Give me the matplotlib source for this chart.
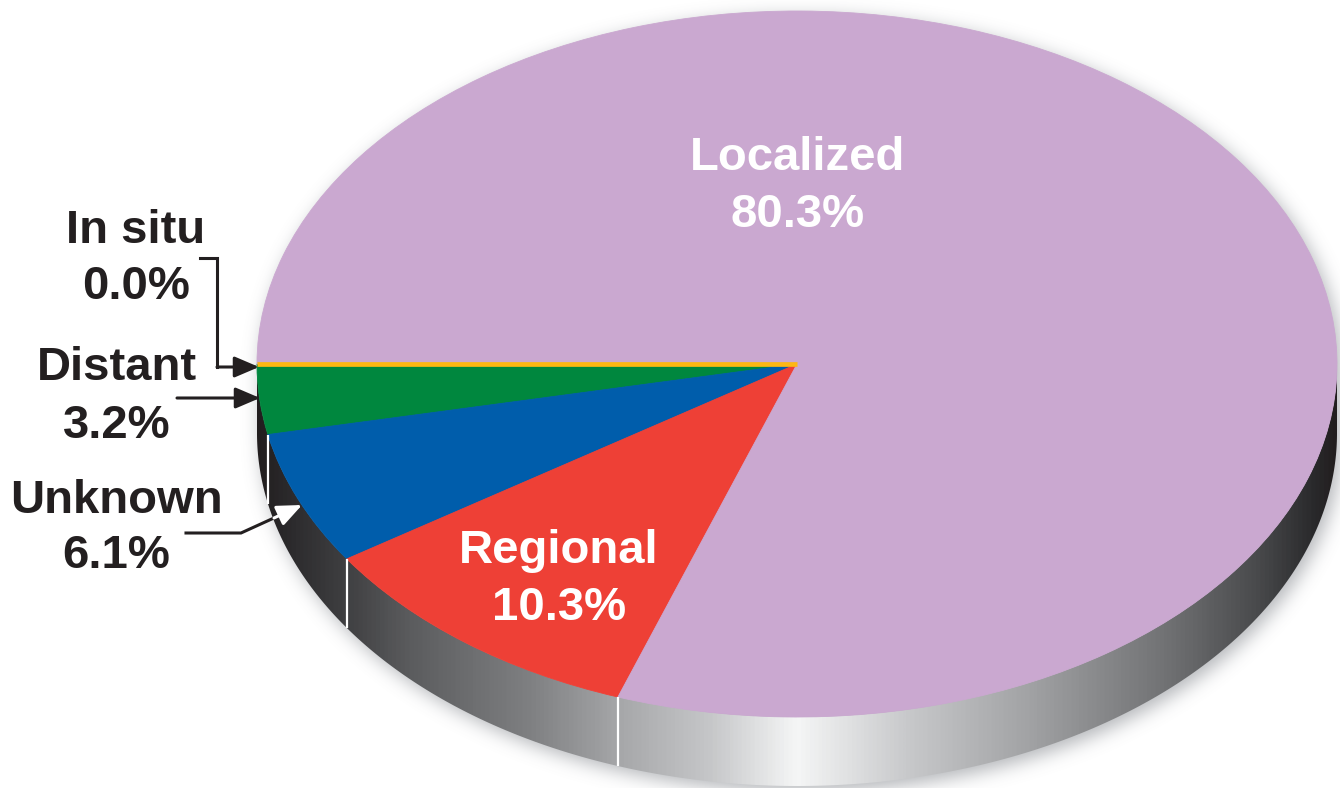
import numpy as np
import matplotlib
matplotlib.use("Agg")
import matplotlib.pyplot as plt
from matplotlib.colors import LinearSegmentedColormap
from matplotlib.patches import Polygon

# ---------------- data ----------------
categories = ["In situ", "Distant", "Unknown", "Regional", "Localized"]
values = [0.0, 3.2, 6.1, 10.3, 80.3]
colors = ["#fdb714", "#00873e", "#005dab", "#ee4036", "#caa8d0"]

# ---------------- layout (pixels) ----------------
W, H = 1340, 788
CX, CY, RX, RY = 797, 364, 540, 353
DEPTH_PX = 69
DEPTH = DEPTH_PX / RY
DARK = "#231f20"
FONT = ["Liberation Sans", "DejaVu Sans"]
FS = 34

fig = plt.figure(figsize=(13.4, 7.88), dpi=100)
ax = fig.add_axes([0, 0, 1, 1])


def P(px, py):
    return ((px - CX) / RX, (CY - py) / RY)


X0, Y1 = P(0, 0)
X1, Y0 = P(W, H)

# ---------------- soft shadow ----------------
PAD = 40
yy, xx = np.mgrid[-PAD:H + PAD, -PAD:W + PAD].astype(float)
u = (xx - CX) / RX
v = (yy - CY) / RY
ell = u ** 2 + v ** 2 <= 1
inside = np.abs(u) <= 1
lower = CY + RY * np.sqrt(np.clip(1 - u ** 2, 0, None))
band = inside & (yy >= CY) & (yy <= lower + DEPTH_PX)
mask = (ell | band).astype(float)
sig = 9.0
k = np.arange(-30, 31)
g = np.exp(-0.5 * (k / sig) ** 2)
g /= g.sum()
bl = np.apply_along_axis(lambda r: np.convolve(r, g, mode="same"), 1, mask)
bl = np.apply_along_axis(lambda c: np.convolve(c, g, mode="same"), 0, bl)
DY, DX = 5, 4
bl = bl[PAD - DY:PAD - DY + H, PAD - DX:PAD - DX + W]
shadow = np.zeros((H, W, 4))
shadow[..., 0] = 0.35
shadow[..., 1] = 0.37
shadow[..., 2] = 0.40
shadow[..., 3] = bl * 0.45
ax.imshow(shadow, extent=(X0, X1, Y0, Y1), origin="upper", aspect="auto",
          zorder=0, interpolation="bilinear")

# ---------------- side band (3D rim) ----------------
th = np.linspace(np.pi, 2 * np.pi, 400)
top = np.column_stack([np.cos(th), np.sin(th)])
bot = np.column_stack([np.cos(th[::-1]), np.sin(th[::-1]) - DEPTH])
side = Polygon(np.vstack([top, bot]), closed=True, facecolor="none",
               edgecolor="none", transform=ax.transData)
ax.add_patch(side)

rim_cmap = LinearSegmentedColormap.from_list("rim", [
    (0.00, "#221e1f"),
    (0.03, "#2c2b2d"),
    (0.08, "#3f3f41"),
    (0.14, "#5b5c5e"),
    (0.25, "#7e7f81"),
    (0.34, "#a8a9ab"),
    (0.42, "#c6c7c9"),
    (0.50, "#f5f6f6"),
    (0.60, "#c9cacc"),
    (0.72, "#a0a1a3"),
    (0.85, "#6e6f71"),
    (0.93, "#48494b"),
    (0.98, "#2a2a2c"),
    (1.00, "#221e1f"),
])
grad = np.linspace(0, 1, 1000)[np.newaxis, :]
im = ax.imshow(grad, extent=(-1, 1, -1 - DEPTH - 0.01, 0.01), aspect="auto",
               cmap=rim_cmap, zorder=1, interpolation="bilinear")
im.set_clip_path(side)

# ---------------- pie top ----------------
wedges, _ = ax.pie(values, colors=colors, startangle=180, counterclock=True,
                   radius=1, center=(0, 0))
for w, c in zip(wedges, colors):
    w.set_edgecolor(c)
    w.set_linewidth(0.6)
    w.set_zorder(2)

# boundary angles from the data
fr = np.array(values) / np.sum(values)
cum = np.concatenate([[0], np.cumsum(fr)])
angles = np.deg2rad(180 + 360 * cum)

# In situ (0.0%) drawn as a thin yellow line
a_ins = (angles[0] + angles[1]) / 2
ax.plot([0, np.cos(a_ins)], [0, np.sin(a_ins)], color=colors[0], lw=3.4,
        solid_capstyle="butt", zorder=3)

# white separators on the rim
for a in angles[1:-1]:
    if np.pi + 1e-3 < a < 2 * np.pi - 1e-3:
        x = np.cos(a)
        y = np.sin(a)
        ax.plot([x, x], [y, y - DEPTH], color="white", lw=1.6, zorder=3,
                solid_capstyle="butt")

ax.set_aspect("auto")
ax.set_xlim(X0, X1)
ax.set_ylim(Y0, Y1)
ax.axis("off")

# ---------------- labels ----------------
def label(px, base1, base2, cat, val, color):
    ax.text(*P(px, base1), cat, ha="center", va="baseline", fontsize=FS,
            fontweight="bold", family=FONT, color=color, zorder=5)
    ax.text(*P(px, base2), f"{val:.1f}%", ha="center", va="baseline",
            fontsize=FS, fontweight="bold", family=FONT, color=color, zorder=5)


label(798, 170, 227, categories[4], values[4], "white")
label(559, 563, 620, categories[3], values[3], "white")
label(136, 243, 299, categories[0], values[0], DARK)
label(117, 380, 438, categories[1], values[1], DARK)
label(116, 513, 568, categories[2], values[2], DARK)

# ---------------- arrows ----------------
aprops = dict(arrowstyle="-|>,head_length=0.75,head_width=0.32", lw=2.2,
              mutation_scale=20, shrinkA=0, shrinkB=0)

# In situ
pts = [P(200, 258), P(217, 258), P(217, 367)]
ax.plot([p[0] for p in pts], [p[1] for p in pts], color=DARK, lw=2.2,
        zorder=6, solid_joinstyle="miter")
ax.annotate("", xy=P(259, 367), xytext=P(217, 367),
            arrowprops=dict(color=DARK, **aprops), zorder=6)
# Distant
ax.annotate("", xy=P(260, 398), xytext=P(177, 398),
            arrowprops=dict(color=DARK, **aprops), zorder=6)
# Unknown
pts = [P(186, 533), P(241, 533), P(275, 517.5)]
ax.plot([p[0] for p in pts], [p[1] for p in pts], color=DARK, lw=2.2,
        zorder=6, solid_joinstyle="miter")
ax.annotate("", xy=P(302, 505), xytext=P(274, 518),
            arrowprops=dict(color="white", **aprops), zorder=6)

fig.savefig("out.png", dpi=100, facecolor="white")
